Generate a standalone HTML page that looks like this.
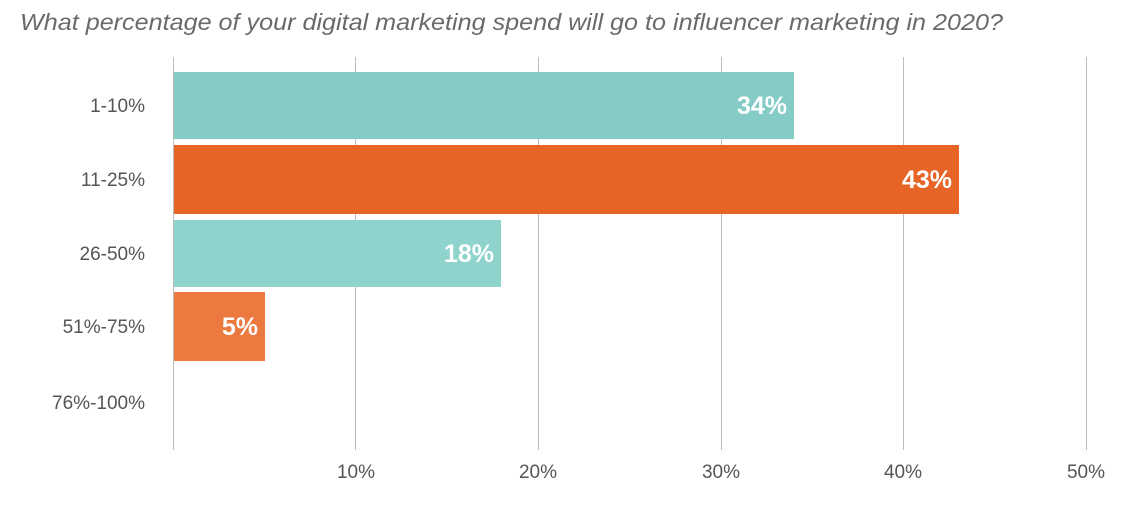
<!DOCTYPE html>
<html><head><style>
body{margin:0;width:1125px;height:505px;background:#fff;overflow:hidden;font-family:"Liberation Sans",sans-serif;}
svg{display:block}
</style></head><body>
<svg width="1125" height="505" xmlns="http://www.w3.org/2000/svg" font-family="Liberation Sans, sans-serif">
<text x="20" y="30" font-size="23" font-style="italic" fill="#6a6a6a" textLength="983" lengthAdjust="spacingAndGlyphs">What percentage of your digital marketing spend will go to influencer marketing in 2020?</text>
<g stroke="#bdbdbd" stroke-width="1">
<line x1="173.5" y1="57" x2="173.5" y2="450"/>
<line x1="355.5" y1="57" x2="355.5" y2="450"/>
<line x1="538.5" y1="57" x2="538.5" y2="450"/>
<line x1="721.5" y1="57" x2="721.5" y2="450"/>
<line x1="903.5" y1="57" x2="903.5" y2="450"/>
<line x1="1086.5" y1="57" x2="1086.5" y2="450"/>
</g>
<rect x="174" y="72" width="620" height="67" fill="#85ccc7"/>
<rect x="174" y="145" width="785" height="69" fill="#e66426"/>
<rect x="174" y="220" width="327" height="67" fill="#8fd3cd"/>
<rect x="174" y="292" width="91" height="69" fill="#ec7a40"/>
<g fill="#fff" font-size="25" font-weight="bold" text-anchor="end">
<text x="787" y="114">34%</text>
<text x="952" y="188">43%</text>
<text x="494" y="262">18%</text>
<text x="258" y="335">5%</text>
</g>
<g fill="#555" font-size="19" text-anchor="end">
<text x="145" y="112">1-10%</text>
<text x="145" y="186">11-25%</text>
<text x="145" y="260">26-50%</text>
<text x="145" y="333">51%-75%</text>
<text x="145" y="409">76%-100%</text>
</g>
<g fill="#555" font-size="19" text-anchor="middle">
<text x="356" y="478">10%</text>
<text x="538" y="478">20%</text>
<text x="721" y="478">30%</text>
<text x="903" y="478">40%</text>
<text x="1086" y="478">50%</text>
</g>
</svg>
</body></html>
